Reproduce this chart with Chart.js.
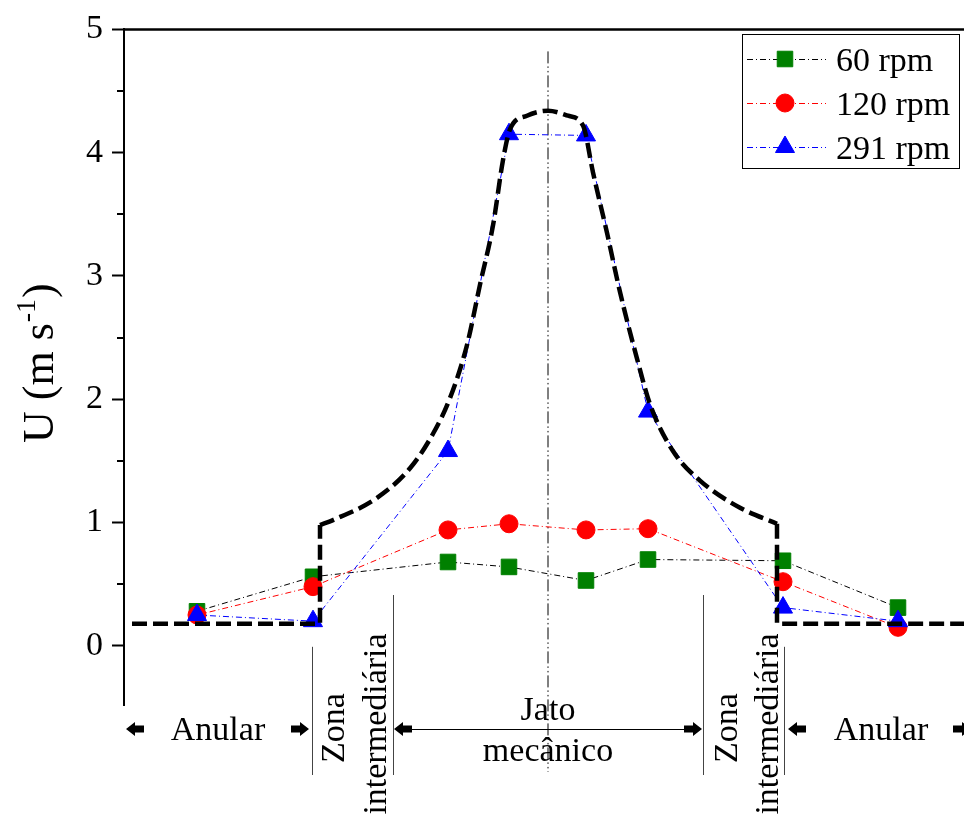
<!DOCTYPE html>
<html>
<head>
<meta charset="utf-8">
<script src="https://cdn.jsdelivr.net/npm/chart.js@4"></script>
<style>
  html, body { margin: 0; padding: 0; background: #fff; overflow: hidden; }
  canvas { display: block; }
</style>
</head>
<body>
<canvas id="profile" width="964" height="820"></canvas>
<script>
// radial positions of the probes (centre of the jet = 0)
const radialPos = [-3.51, -2.35, -1.0, -0.39, 0.38, 1.0, 2.35, 3.5]
const rpm60 = [0.28, 0.56, 0.68, 0.64, 0.53, 0.70, 0.69, 0.31]
const rpm120 = [0.25, 0.48, 0.94, 0.99, 0.94, 0.95, 0.52, 0.15]
const rpm291 = [0.25, 0.20, 1.58, 4.15, 4.14, 1.90, 0.31, 0.20]
const seriesNames = ['60 rpm', '120 rpm', '291 rpm']

// envelope of the mechanical jet (thick dashed curve)
const envX = [-2.28, -2.15, -1.71, -1.38, -1.15, -0.98, -0.81, -0.68, -0.55, -0.45, -0.38, -0.21, 0,
  0.2, 0.35, 0.45, 0.59, 0.72, 0.89, 1.02, 1.25, 1.52, 1.92, 2.29]
const envY = [0.98, 1.02, 1.20, 1.44, 1.72, 2.01, 2.44, 2.93, 3.41, 3.94, 4.19, 4.30, 4.34,
  4.30, 4.22, 3.84, 3.35, 2.87, 2.33, 1.96, 1.58, 1.34, 1.12, 0.99]
// annular level on both sides, with the step up to the envelope
const stepLeftX = [-4.16, -2.28, -2.28]
const stepLeftY = [0.18, 0.18, 0.98]
const stepRightX = [2.29, 2.29, 4.16]
const stepRightY = [0.99, 0.18, 0.18]

const yTicks = [0, 1, 2, 3, 4, 5]
const yMinor = [0.5, 1.5, 2.5, 3.5, 4.5]

// zone limits along the radius
const zoneOuter = 2.36
const zoneInner = 1.55

const serif = '"Liberation Serif", "Times New Roman", serif'

const pts = (xs, ys) => xs.map((v, i) => ({ x: v, y: ys[i] }))

const styles = [
  { line: '#000000', fill: '#008000', shape: 'rect', r: 11 },
  { line: '#ff0000', fill: '#ff0000', shape: 'circle', r: 9 },
  { line: '#0000ff', fill: '#0000ff', shape: 'triangle', r: 11 }
]
const thinDash = [6, 3, 1, 3]

function fatArrow(ctx, tip, y, dir) {
  ctx.beginPath()
  ctx.moveTo(tip, y)
  ctx.lineTo(tip - dir * 9, y - 7)
  ctx.lineTo(tip - dir * 9, y - 3.5)
  ctx.lineTo(tip - dir * 18, y - 3.5)
  ctx.lineTo(tip - dir * 18, y + 3.5)
  ctx.lineTo(tip - dir * 9, y + 3.5)
  ctx.lineTo(tip - dir * 9, y + 7)
  ctx.closePath()
  ctx.fill()
}

function vText(ctx, text, x, y) {
  ctx.save()
  ctx.translate(x, y)
  ctx.rotate(-Math.PI / 2)
  ctx.textAlign = 'center'
  ctx.textBaseline = 'alphabetic'
  ctx.fillText(text, 0, 0)
  ctx.restore()
}

const decor = {
  id: 'decor',
  beforeDatasetsDraw(chart) {
    const { ctx, chartArea: a, scales: { x } } = chart
    const cx = x.getPixelForValue(0)
    ctx.save()
    ctx.strokeStyle = '#000'
    ctx.lineWidth = 1
    ctx.setLineDash([12, 3, 1.5, 3, 1.5, 3])
    ctx.beginPath()
    ctx.moveTo(cx, a.top + 22)
    ctx.lineTo(cx, a.bottom + 67)
    ctx.stroke()
    ctx.restore()
  },
  afterDraw(chart) {
    const { ctx, chartArea: a, scales: { x, y } } = chart
    ctx.save()

    // top frame line
    ctx.strokeStyle = '#000'
    ctx.lineWidth = 2.5
    ctx.beginPath()
    ctx.moveTo(a.left - 1, a.top)
    ctx.lineTo(a.right, a.top)
    ctx.stroke()

    // minor ticks
    ctx.lineWidth = 2
    yMinor.forEach(v => {
      const py = Math.round(y.getPixelForValue(v))
      ctx.beginPath()
      ctx.moveTo(a.left - 7, py)
      ctx.lineTo(a.left, py)
      ctx.stroke()
    })

    // y axis title with superscript
    ctx.fillStyle = '#000'
    ctx.save()
    ctx.translate(53, 443)
    ctx.rotate(-Math.PI / 2)
    ctx.textAlign = 'left'
    ctx.textBaseline = 'alphabetic'
    ctx.font = '44px ' + serif
    const main = 'U (m s'
    ctx.fillText(main, 0, 0)
    let w = ctx.measureText(main).width
    ctx.font = '28px ' + serif
    ctx.fillText('-1', w + 1, -18)
    w += ctx.measureText('-1').width + 2
    ctx.font = '44px ' + serif
    ctx.fillText(')', w, 0)
    ctx.restore()

    // zone separators
    const L2 = x.getPixelForValue(-zoneOuter)
    const L1 = x.getPixelForValue(-zoneInner)
    const R1 = x.getPixelForValue(zoneInner)
    const R2 = x.getPixelForValue(zoneOuter)
    const low = a.bottom + 70
    const zeroY = y.getPixelForValue(0) + 1
    const innerTop = a.bottom - 110
    ctx.strokeStyle = '#444'
    ctx.lineWidth = 1
    ;[[L2, zeroY], [L1, innerTop], [R1, innerTop], [R2, zeroY]].forEach(([px, top]) => {
      ctx.beginPath()
      ctx.moveTo(Math.round(px) + 0.5, top)
      ctx.lineTo(Math.round(px) + 0.5, low)
      ctx.stroke()
    })

    // arrows
    const ay = a.bottom + 24
    ctx.fillStyle = '#000'
    fatArrow(ctx, a.left + 2, ay, -1)
    fatArrow(ctx, L2 - 3, ay, 1)
    fatArrow(ctx, L1 + 1, ay, -1)
    fatArrow(ctx, R1 - 1, ay, 1)
    fatArrow(ctx, R2 + 4, ay, -1)
    fatArrow(ctx, a.right + 7, ay, 1)
    ctx.strokeStyle = '#000'
    ctx.beginPath()
    ctx.moveTo(L1 + 10, ay + 0.5)
    ctx.lineTo(R1 - 10, ay + 0.5)
    ctx.stroke()

    // zone names
    ctx.font = '34px ' + serif
    ctx.textAlign = 'center'
    ctx.textBaseline = 'alphabetic'
    ctx.fillText('Anular', (a.left + L2) / 2, a.bottom + 35)
    ctx.fillText('Anular', R2 + 97, a.bottom + 35)
    const cx = x.getPixelForValue(0)
    ctx.fillText('Jato', cx, a.bottom + 15)
    ctx.fillText('mecânico', cx, a.bottom + 56)
    vText(ctx, 'Zona', L2 + 32, a.bottom + 23)
    vText(ctx, 'intermediária', L2 + 74, a.bottom + 19)
    vText(ctx, 'Zona', R1 + 34, a.bottom + 23)
    vText(ctx, 'intermediária', R1 + 75, a.bottom + 19)

    // legend
    ctx.strokeStyle = '#000'
    ctx.lineWidth = 1
    ctx.strokeRect(742.5, 34.5, 217, 134)
    ctx.textAlign = 'left'
    seriesNames.forEach((name, i) => {
      const st = styles[i]
      const ly = 59 + i * 44
      ctx.save()
      ctx.strokeStyle = st.line
      ctx.setLineDash(thinDash)
      ctx.beginPath()
      ctx.moveTo(747, ly + 0.5)
      ctx.lineTo(826, ly + 0.5)
      ctx.stroke()
      ctx.restore()
      ctx.fillStyle = st.fill
      ctx.strokeStyle = st.fill
      Chart.helpers.drawPoint(ctx, { pointStyle: st.shape, radius: st.r, rotation: 0, borderWidth: 1 }, 785, ly)
      ctx.fillStyle = '#000'
      ctx.font = '34px ' + serif
      ctx.fillText(name, 836, ly + 12)
    })
    ctx.restore()
  }
}

const seriesData = [rpm60, rpm120, rpm291]
const datasets = seriesData.map((vals, i) => ({
  label: seriesNames[i],
  data: pts(radialPos, vals),
  borderColor: styles[i].line,
  borderWidth: 1,
  borderDash: thinDash,
  pointStyle: styles[i].shape,
  pointRadius: styles[i].r,
  pointBackgroundColor: styles[i].fill,
  pointBorderColor: styles[i].fill,
  pointBorderWidth: 1,
  tension: 0,
  order: 3 - i
}))

const envStyle = {
  borderColor: '#000',
  borderWidth: 4.5,
  borderDash: [15, 6],
  borderCapStyle: 'butt',
  pointRadius: 0,
  order: 0
}
datasets.push({ label: 'envelope', data: pts(envX, envY), cubicInterpolationMode: 'monotone', ...envStyle })
datasets.push({ label: 'annular left', data: pts(stepLeftX, stepLeftY), tension: 0, ...envStyle })
datasets.push({ label: 'annular right', data: pts(stepRightX, stepRightY), tension: 0, ...envStyle })

const chart = new Chart(document.getElementById('profile'), {
  type: 'line',
  data: { datasets },
  options: {
    responsive: false,
    animation: false,
    devicePixelRatio: 1,
    layout: { autoPadding: false, padding: { top: 27, bottom: 115, left: 0, right: 0 } },
    plugins: { legend: { display: false }, tooltip: { enabled: false } },
    scales: {
      x: { type: 'linear', min: -4.24, max: 4.16, display: false },
      y: {
        min: -0.48,
        max: 5,
        afterFit: s => { s.width = 124 },
        afterBuildTicks: s => { s.ticks = yTicks.map(v => ({ value: v })) },
        border: { color: '#000', width: 2 },
        grid: { drawOnChartArea: false, tickLength: 12, tickWidth: 2, tickColor: '#000' },
        ticks: {
          color: '#000',
          padding: 9,
          font: { family: serif, size: 34 },
          callback: v => String(v)
        }
      }
    }
  },
  plugins: [decor]
})
</script>
</body>
</html>
